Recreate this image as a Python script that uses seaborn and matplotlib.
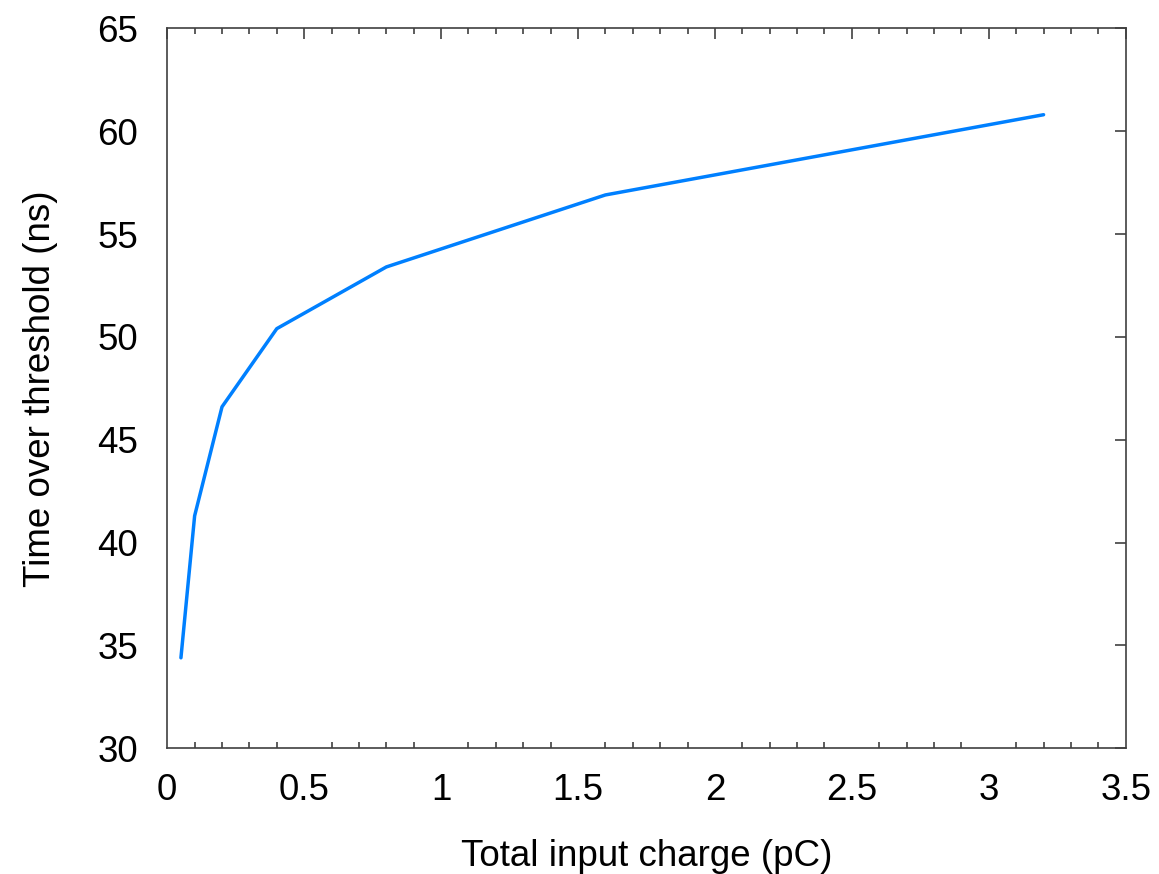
import matplotlib
matplotlib.use("Agg")
import matplotlib.pyplot as plt
from matplotlib.ticker import MultipleLocator
import pandas as pd
import seaborn as sns

# Time over threshold versus injected charge
charge_pc = [0.05, 0.1, 0.2, 0.4, 0.8, 1.6, 3.2]
tot_ns = [34.4, 41.3, 46.6, 50.4, 53.4, 56.9, 60.8]

x_ticks = [0, 0.5, 1, 1.5, 2, 2.5, 3, 3.5]
x_tick_labels = ["0", "0.5", "1", "1.5", "2", "2.5", "3", "3.5"]
y_ticks = [30, 35, 40, 45, 50, 55, 60, 65]
y_tick_labels = ["30", "35", "40", "45", "50", "55", "60", "65"]

df = pd.DataFrame({"charge": charge_pc, "tot": tot_ns})

sns.set_style("white")
plt.rcParams["font.family"] = ["Liberation Sans", "DejaVu Sans"]

fig = plt.figure(figsize=(11.59, 8.74), dpi=100)
ax = fig.add_axes([0.1443, 0.1438, 0.9713 - 0.1443, 0.9676 - 0.1438])

sns.lineplot(data=df, x="charge", y="tot", ax=ax, color="#0080ff",
             linewidth=2.5, sort=False)

ax.set_xlim(0, 3.5)
ax.set_ylim(30, 65)
ax.set_xticks(x_ticks)
ax.set_xticklabels(x_tick_labels)
ax.set_yticks(y_ticks)
ax.set_yticklabels(y_tick_labels)
ax.xaxis.set_minor_locator(MultipleLocator(0.1))

for s in ax.spines.values():
    s.set_visible(True)
    s.set_color("#404040")
    s.set_linewidth(1.2)

ax.tick_params(axis="both", which="major", direction="in", length=8,
               width=1.1, color="#303030", labelsize=26.5, top=True,
               right=True, labelcolor="black")
ax.tick_params(axis="x", which="major", pad=18)
ax.tick_params(axis="y", which="major", pad=21)
ax.tick_params(axis="x", which="minor", direction="in", length=4.5,
               width=1.1, color="#303030", top=True, bottom=True)

ax.set_xlabel("Total input charge (pC)", fontsize=26.5, labelpad=22,
              color="black")
ax.set_ylabel("Time over threshold (ns)", fontsize=26.5, labelpad=28,
              color="black")

fig.savefig("out.png", dpi=100)
